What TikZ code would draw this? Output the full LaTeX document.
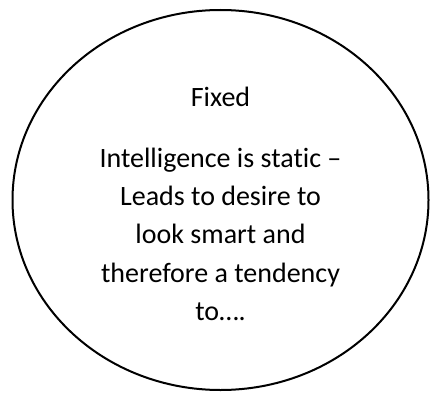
\documentclass[tikz,border=0pt]{standalone}
\usepackage{fontspec}
\setmainfont{Carlito}[Ligatures=NoCommon]
\usepackage{tikz}
\usetikzlibrary{shapes.geometric,positioning}

\begin{document}
\begin{tikzpicture}[
  bubble/.style={draw,ellipse,line width=2pt,minimum width=416pt,
                 minimum height=380pt,inner sep=0pt},
  lab/.style={align=center,font=\fontsize{28}{38.3}\selectfont,inner sep=0pt}]
  \useasboundingbox (0,0) rectangle (430pt,392pt);
  \node[bubble] (mindset) at (220.5pt,192pt) {};
  \node[lab] (fixedtext) at ([yshift=-4pt]mindset.center)
    {Fixed\\[22pt]Intelligence is static –\\Leads to desire to\\look smart and\\
     therefore a tendency\\to….};
\end{tikzpicture}
\end{document}
